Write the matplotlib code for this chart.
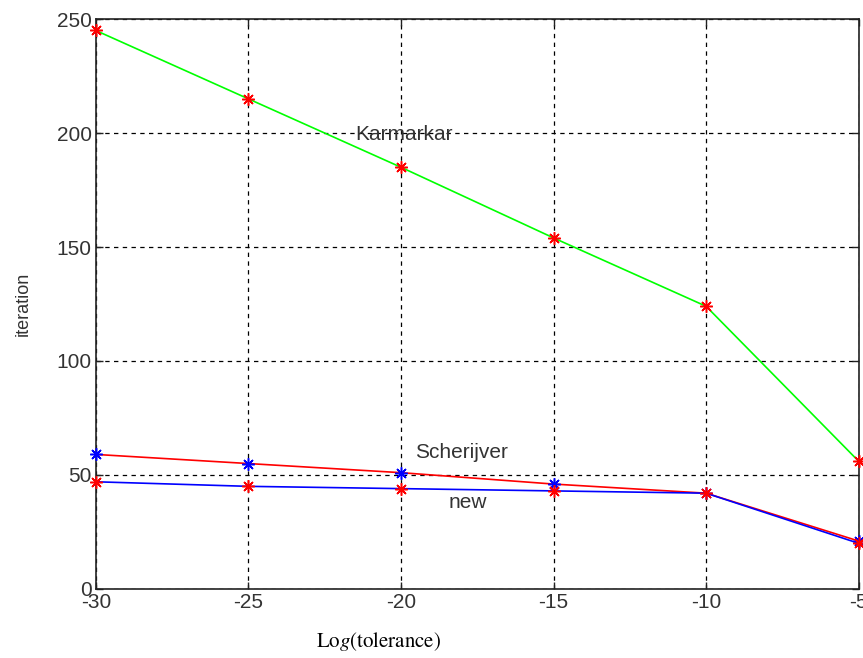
import matplotlib
matplotlib.use("Agg")
import matplotlib.pyplot as plt

# data
tol = [-30, -25, -20, -15, -10, -5]
karmarkar = [245, 215, 185, 154, 124, 56]
scherijver = [59, 55, 51, 46, 42, 21]
new = [47, 45, 44, 43, 42, 20]

xticks = [-30, -25, -20, -15, -10, -5]
yticks = [0, 50, 100, 150, 200, 250]

TXT = "#333333"
STAR = (8, 2, 0)

plt.rcParams["font.family"] = ["Liberation Sans", "DejaVu Sans"]
plt.rcParams["mathtext.fontset"] = "stix"
plt.rcParams["axes.unicode_minus"] = False

fig = plt.figure(figsize=(8.63, 6.58), dpi=100, facecolor="white")
ax = fig.add_axes([0.111, 0.105, 0.884, 0.866])

ax.plot(tol, karmarkar, color="#00ff00", lw=1.2, marker=STAR, ms=9,
        mec="#ff0000", mfc="#ff0000", mew=1.1, clip_on=False, zorder=3)
ax.plot(tol, scherijver, color="#ff0000", lw=1.2, marker=STAR, ms=9,
        mec="#0000ff", mfc="#0000ff", mew=1.1, clip_on=False, zorder=3)
ax.plot(tol, new, color="#0000ff", lw=1.2, marker=STAR, ms=9,
        mec="#ff0000", mfc="#ff0000", mew=1.1, clip_on=False, zorder=4)

ax.text(-19.9, 199.5, "Karmarkar", ha="center", va="center", fontsize=15, color=TXT)
ax.text(-18.0, 60, "Scherijver", ha="center", va="center", fontsize=15, color=TXT)
ax.text(-17.8, 38, "new", ha="center", va="center", fontsize=15, color=TXT)

ax.set_xlim(-30, -5)
ax.set_ylim(0, 250)
ax.set_xticks(xticks)
ax.set_yticks(yticks)
ax.grid(True, color="black", linestyle=(0, (3.5, 3.5)), lw=0.9)
ax.tick_params(direction="in", length=5, width=1, colors="#222222",
               labelsize=15, labelcolor=TXT, top=True, right=True, pad=3)
for s in ax.spines.values():
    s.set_color("#222222")
    s.set_linewidth(1.2)

ax.set_ylabel("iteration", fontsize=13, color=TXT, labelpad=18)
ax.set_xlabel(r"$\mathrm{Lo}g\mathrm{(tolerance)}$", fontsize=15, color="black")
ax.xaxis.set_label_coords(0.37, -0.072)

fig.savefig("out.png", dpi=100, facecolor="white")
